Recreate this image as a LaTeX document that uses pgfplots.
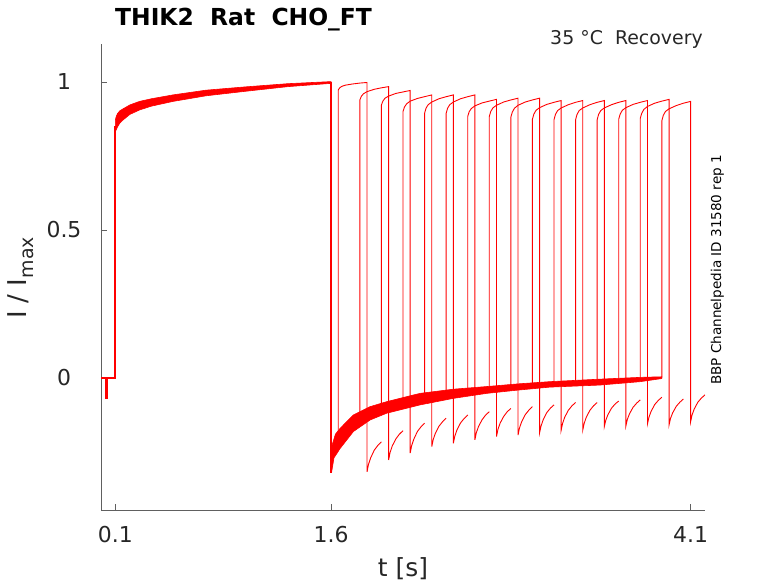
\documentclass[border=0pt]{standalone}
\usepackage{fontspec}
\setmainfont{DejaVu Sans}
\usepackage{pgfplots}
\pgfplotsset{compat=1.18}
\definecolor{txt}{HTML}{262626}
\definecolor{axc}{HTML}{606060}
\begin{document}
\begin{tikzpicture}
\useasboundingbox (0,0) rectangle (778bp,583bp);
\begin{axis}[
  at={(101bp,73bp)}, anchor=south west,
  scale only axis, width=604bp, height=466bp,
  xmin=0, xmax=4.2, ymin=-0.446, ymax=1.128,
  axis x line*=bottom, axis y line*=left,
  axis line style={-, axc, line width=0.6pt},
  tick style={axc, line width=0.6pt},
  tick align=inside, major tick length=6bp,
  xtick={0.1,1.6,4.1}, xticklabels={0.1,1.6,4.1},
  ytick={0,0.5,1}, yticklabels={0,0.5,1},
  /pgf/number format/assume math mode=true,
  ticklabel style={font=\fontsize{22}{26}\selectfont, text=txt, inner sep=0pt},
  xticklabel style={anchor=north, yshift=-16bp},
  yticklabel style={anchor=center, xshift=-37bp},
  pulse/.style={red, line width=0.9pt},
]
% baseline and activation step
\addplot[red, line width=1.8pt] coordinates {(0,0)(0.037,0)(0.037,-0.068)(0.039,-0.068)(0.039,0)(0.1,0)(0.1,0.85)};
% activation band (upper then lower)
\addplot[red, fill=red, line width=0.6pt] coordinates {
(0.1,0.872)(0.105,0.882)(0.115,0.893)(0.13,0.902)(0.15,0.908)(0.2,0.922)(0.267,0.934)(0.35,0.943)(0.5,0.956)(0.73,0.972)(1.0,0.983)(1.3,0.994)(1.6,1.001)
(1.6,0.995)(1.3,0.984)(1.0,0.968)(0.73,0.953)(0.5,0.934)(0.35,0.918)(0.267,0.905)(0.2,0.89)(0.15,0.87)(0.13,0.86)(0.115,0.848)(0.1,0.832)} -- cycle;
% drop at 1.6
\addplot[red, line width=1.6pt] coordinates {(1.6,1.0)(1.6,-0.32)};
% recovery band (upper then lower)
\addplot[red, fill=red, line width=0.6pt] coordinates {
(1.6,-0.27)(1.608,-0.225)(1.63,-0.19)(1.663,-0.170)(1.755,-0.125)(1.871,-0.097)(1.987,-0.080)(2.219,-0.052)(2.45,-0.038)(2.683,-0.029)(2.9,-0.020)(3.12,-0.0125)(3.47,-0.004)(3.75,0.002)(3.9,0.004)
(3.9,-0.002)(3.75,-0.0125)(3.47,-0.024)(3.12,-0.031)(2.9,-0.041)(2.683,-0.052)(2.45,-0.069)(2.219,-0.091)(1.987,-0.119)(1.871,-0.142)(1.755,-0.181)(1.663,-0.238)(1.62,-0.27)(1.603,-0.32)(1.6,-0.32)} -- cycle;
% second pulses, one per sweep
\addplot[pulse] coordinates {(1.65,-0.21)(1.65,0.973)(1.66,0.980)(1.675,0.985)(1.70,0.989)(1.75,0.993)(1.80,0.996)(1.85,0.998)(1.85,-0.317)(1.86,-0.292)(1.875,-0.270)(1.90,-0.244)(1.925,-0.228)(1.95,-0.216)};
\addplot[pulse] coordinates {(1.80,-0.138)(1.80,0.939)(1.81,0.951)(1.825,0.960)(1.85,0.967)(1.90,0.975)(1.95,0.980)(2.00,0.984)(2.00,-0.277)(2.01,-0.252)(2.025,-0.230)(2.05,-0.206)(2.075,-0.190)(2.10,-0.178)};
\addplot[pulse] coordinates {(1.95,-0.107)(1.95,0.922)(1.96,0.935)(1.975,0.945)(2.00,0.952)(2.05,0.961)(2.10,0.966)(2.15,0.971)(2.15,-0.254)(2.16,-0.229)(2.175,-0.207)(2.20,-0.181)(2.225,-0.165)(2.25,-0.153)};
\addplot[pulse] coordinates {(2.10,-0.085)(2.10,0.900)(2.11,0.915)(2.125,0.926)(2.15,0.935)(2.20,0.944)(2.25,0.950)(2.30,0.956)(2.30,-0.232)(2.31,-0.208)(2.325,-0.187)(2.35,-0.163)(2.375,-0.148)(2.40,-0.136)};
\addplot[pulse] coordinates {(2.25,-0.069)(2.25,0.894)(2.26,0.911)(2.275,0.923)(2.30,0.932)(2.35,0.943)(2.40,0.950)(2.45,0.956)(2.45,-0.221)(2.46,-0.197)(2.475,-0.176)(2.50,-0.152)(2.525,-0.137)(2.55,-0.125)};
\addplot[pulse] coordinates {(2.40,-0.057)(2.40,0.894)(2.41,0.911)(2.425,0.923)(2.45,0.932)(2.50,0.943)(2.55,0.950)(2.60,0.956)(2.60,-0.209)(2.61,-0.185)(2.625,-0.164)(2.65,-0.141)(2.675,-0.125)(2.70,-0.114)};
\addplot[pulse] coordinates {(2.55,-0.048)(2.55,0.883)(2.56,0.899)(2.575,0.910)(2.60,0.919)(2.65,0.929)(2.70,0.935)(2.75,0.941)(2.75,-0.198)(2.76,-0.174)(2.775,-0.153)(2.80,-0.130)(2.825,-0.114)(2.85,-0.103)};
\addplot[pulse] coordinates {(2.70,-0.040)(2.70,0.883)(2.71,0.900)(2.725,0.912)(2.75,0.921)(2.80,0.932)(2.85,0.939)(2.90,0.945)(2.90,-0.193)(2.91,-0.169)(2.925,-0.148)(2.95,-0.124)(2.975,-0.109)(3.00,-0.097)};
\addplot[pulse] coordinates {(2.85,-0.032)(2.85,0.881)(2.86,0.898)(2.875,0.911)(2.90,0.921)(2.95,0.932)(3.00,0.939)(3.05,0.945)(3.05,-0.185)(3.06,-0.162)(3.075,-0.141)(3.10,-0.117)(3.125,-0.102)(3.15,-0.091)};
\addplot[pulse] coordinates {(3.00,-0.027)(3.00,0.874)(3.01,0.891)(3.025,0.904)(3.05,0.913)(3.10,0.924)(3.15,0.931)(3.20,0.937)(3.20,-0.176)(3.21,-0.153)(3.225,-0.132)(3.25,-0.109)(3.275,-0.094)(3.30,-0.083)};
\addplot[pulse] coordinates {(3.15,-0.021)(3.15,0.872)(3.16,0.890)(3.175,0.903)(3.20,0.912)(3.25,0.923)(3.30,0.931)(3.35,0.937)(3.35,-0.176)(3.36,-0.153)(3.375,-0.132)(3.40,-0.109)(3.425,-0.094)(3.45,-0.083)};
\addplot[pulse] coordinates {(3.30,-0.018)(3.30,0.872)(3.31,0.890)(3.325,0.903)(3.35,0.912)(3.40,0.923)(3.45,0.931)(3.50,0.937)(3.50,-0.164)(3.51,-0.143)(3.525,-0.124)(3.55,-0.102)(3.575,-0.088)(3.60,-0.078)};
\addplot[pulse] coordinates {(3.45,-0.014)(3.45,0.872)(3.46,0.890)(3.475,0.903)(3.50,0.912)(3.55,0.923)(3.60,0.931)(3.65,0.937)(3.65,-0.162)(3.66,-0.140)(3.675,-0.121)(3.70,-0.099)(3.725,-0.085)(3.75,-0.074)};
\addplot[pulse] coordinates {(3.60,-0.010)(3.60,0.874)(3.61,0.891)(3.625,0.904)(3.65,0.913)(3.70,0.924)(3.75,0.931)(3.80,0.937)(3.80,-0.155)(3.81,-0.133)(3.825,-0.113)(3.85,-0.090)(3.875,-0.076)(3.90,-0.065)};
\addplot[pulse] coordinates {(3.75,-0.005)(3.75,0.877)(3.76,0.894)(3.775,0.907)(3.80,0.917)(3.85,0.928)(3.90,0.935)(3.95,0.941)(3.95,-0.159)(3.96,-0.137)(3.975,-0.118)(4.00,-0.096)(4.025,-0.082)(4.05,-0.071)};
\addplot[pulse] coordinates {(3.90,0.001)(3.90,0.869)(3.91,0.887)(3.925,0.900)(3.95,0.909)(4.00,0.920)(4.05,0.928)(4.10,0.934)(4.10,-0.148)(4.11,-0.125)(4.125,-0.105)(4.15,-0.082)(4.175,-0.068)(4.20,-0.057)};
\end{axis}
\node[anchor=base west, inner sep=0pt, font=\fontsize{23.5}{27}\selectfont\bfseries] at (115bp,557bp) {THIK2\ \ Rat\ \ CHO\_FT};
\node[anchor=base east, inner sep=0pt, text=txt, font=\fontsize{19}{22}\selectfont] at (703bp,538bp) {35 °C\ \ Recovery};
\node[anchor=base, rotate=90, inner sep=0pt, text=black, font=\fontsize{13.6}{16}\selectfont] at (721bp,313bp) {BBP Channelpedia ID 31580 rep 1};
\node[anchor=base, rotate=90, inner sep=0pt, text=txt, font=\fontsize{26}{30}\selectfont] at (26bp,305bp) {I / I\raisebox{-0.3em}{\fontsize{19}{20}\selectfont max}};
\node[anchor=base, inner sep=0pt, text=txt, font=\fontsize{25}{29}\selectfont] at (403bp,6.5bp) {t [s]};
\end{tikzpicture}
\end{document}
